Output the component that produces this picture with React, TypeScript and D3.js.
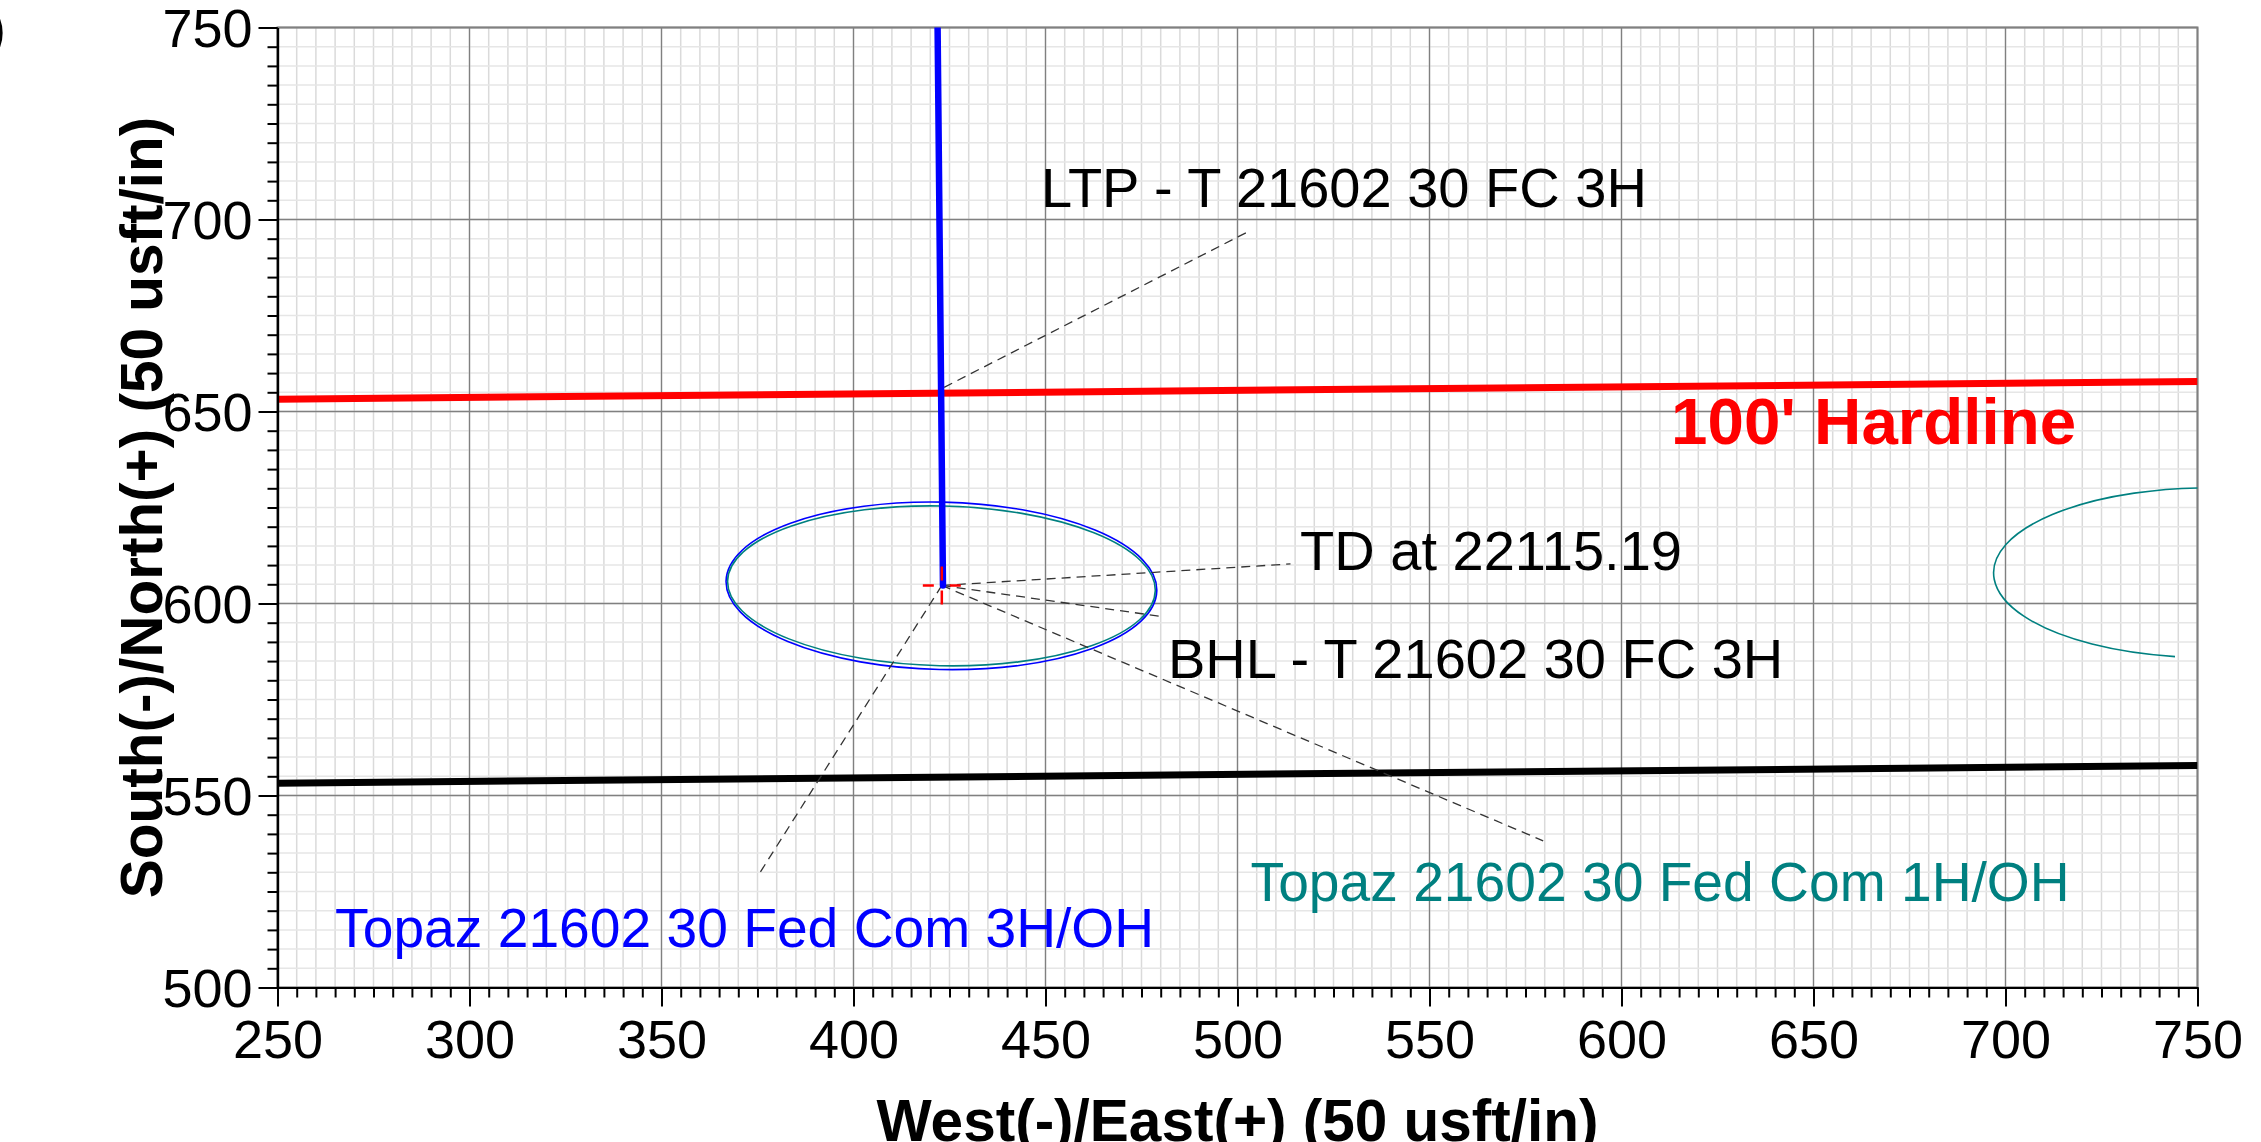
import React, { useEffect, useRef } from 'react';
import * as d3 from 'd3';

const WIDTH = 2261;
const HEIGHT = 1142;
const FONT = '"Liberation Sans", Arial, Helvetica, sans-serif';

// axis ticks (usft)
const xTickValues = [250, 300, 350, 400, 450, 500, 550, 600, 650, 700, 750];
const yTickValues = [500, 550, 600, 650, 700, 750];
const minorTickStep = 5;

// well path Topaz 3H (East, North)
const wellPathEast = [421.9, 423.3];
const wellPathNorth = [750, 604.7];

// hardline and lease line
const hardlineEast = [250, 750];
const hardlineNorth = [653.2, 657.8];
const leaseLineEast = [250, 750];
const leaseLineNorth = [553.2, 557.8];

// TD / BHL cross marker
const markerEast = 423.0;
const markerNorth = 604.7;

// error ellipses
const ellipseCenterEast = [422.9, 422.9, 752.9];
const ellipseCenterNorth = [604.6, 604.6, 608.0];
const ellipseSemiEast = [56.1, 55.7, 56.0];
const ellipseSemiNorth = [21.8, 20.8, 22.1];
const ellipseTiltDeg = [1.3, 1.3, 0];
const ellipseArcFrom = [0, 0, 261];
const ellipseArcTo = [360, 360, 60];
const ellipseColors = ['#0000ff', '#008080', '#008080'];

// annotation labels + leaders
const labelTexts = [
  'LTP - T 21602 30 FC 3H',
  'TD at 22115.19',
  'BHL - T 21602 30 FC 3H',
  'Topaz 21602 30 Fed Com 1H/OH',
  'Topaz 21602 30 Fed Com 3H/OH',
];
const labelEast = [448.8, 516.3, 481.9, 503.4, 265.0];
const labelNorth = [703.3, 608.7, 580.7, 522.5, 510.6];
const labelColors = ['#000000', '#000000', '#000000', '#008080', '#0000ff'];
const labelSizes = [56, 56, 56, 55.2, 55.2];
const leaderFromEast = [423.6, 423.0, 423.0, 423.0, 423.0];
const leaderFromNorth = [656.3, 604.7, 604.7, 604.7, 604.7];
const leaderToEast = [502.5, 513.8, 479.6, 579.6, 375.0];
const leaderToNorth = [696.7, 610.3, 596.7, 538.2, 528.9];

const hardlineLabel = "100' Hardline";
const hardlineLabelEast = 612.9;
const hardlineLabelNorth = 641.5;

const App: React.FC = () => {
  const svgRef = useRef<SVGSVGElement>(null);

  useEffect(() => {
    if (!svgRef.current) return;
    const svg = d3.select(svgRef.current);
    svg.selectAll('*').remove();

    const margin = { top: 27.5, right: WIDTH - 2197.5, bottom: HEIGHT - 987.5, left: 277.5 };
    const x = d3.scaleLinear().domain([250, 750]).range([margin.left, WIDTH - margin.right]);
    const y = d3.scaleLinear().domain([500, 750]).range([HEIGHT - margin.bottom, margin.top]);
    const [x0, x1] = x.range();
    const [y0, y1] = y.range();

    svg.append('rect').attr('width', WIDTH).attr('height', HEIGHT).attr('fill', '#ffffff');

    svg
      .append('defs')
      .append('clipPath')
      .attr('id', 'plot-clip')
      .append('rect')
      .attr('x', x0)
      .attr('y', y1)
      .attr('width', x1 - x0)
      .attr('height', y0 - y1);

    // grid
    const minorX = d3.range(250, 750 + 0.01, minorTickStep);
    const minorY = d3.range(500, 750 + 0.01, minorTickStep);
    const grid = svg.append('g');
    grid
      .selectAll('.gx')
      .data(minorX)
      .enter()
      .append('line')
      .attr('x1', (d) => x(d))
      .attr('x2', (d) => x(d))
      .attr('y1', y1)
      .attr('y2', y0)
      .attr('stroke', '#dadada')
      .attr('stroke-width', 1.5);
    grid
      .selectAll('.gy')
      .data(minorY)
      .enter()
      .append('line')
      .attr('x1', x0)
      .attr('x2', x1)
      .attr('y1', (d) => y(d))
      .attr('y2', (d) => y(d))
      .attr('stroke', '#e6e6e6')
      .attr('stroke-width', 1.5);
    grid
      .selectAll('.mx')
      .data(xTickValues)
      .enter()
      .append('line')
      .attr('x1', (d) => x(d))
      .attr('x2', (d) => x(d))
      .attr('y1', y1)
      .attr('y2', y0)
      .attr('stroke', '#808080')
      .attr('stroke-width', 1.3);
    grid
      .selectAll('.my')
      .data(yTickValues)
      .enter()
      .append('line')
      .attr('x1', x0)
      .attr('x2', x1)
      .attr('y1', (d) => y(d))
      .attr('y2', (d) => y(d))
      .attr('stroke', '#808080')
      .attr('stroke-width', 1.3);

    svg
      .append('rect')
      .attr('x', x0)
      .attr('y', y1)
      .attr('width', x1 - x0)
      .attr('height', y0 - y1)
      .attr('fill', 'none')
      .attr('stroke', '#808080')
      .attr('stroke-width', 2);

    const plot = svg.append('g').attr('clip-path', 'url(#plot-clip)');
    const kx = (x1 - x0) / 500;
    const ky = (y0 - y1) / 250;

    // ellipses
    ellipseCenterEast.forEach((ce, i) => {
      const cx = x(ce);
      const cy = y(ellipseCenterNorth[i]);
      const rx = ellipseSemiEast[i] * kx;
      const ry = ellipseSemiNorth[i] * ky;
      if (ellipseArcTo[i] - ellipseArcFrom[i] >= 360) {
        plot
          .append('ellipse')
          .attr('cx', cx)
          .attr('cy', cy)
          .attr('rx', rx)
          .attr('ry', ry)
          .attr('transform', `rotate(${ellipseTiltDeg[i]},${cx},${cy})`)
          .attr('fill', 'none')
          .attr('stroke', ellipseColors[i])
          .attr('stroke-width', 1.6);
      } else {
        const a0 = (ellipseArcFrom[i] * Math.PI) / 180;
        const a1 = (ellipseArcTo[i] * Math.PI) / 180;
        const p0 = [x(ce + ellipseSemiEast[i] * Math.cos(a0)), y(ellipseCenterNorth[i] + ellipseSemiNorth[i] * Math.sin(a0))];
        const p1 = [x(ce + ellipseSemiEast[i] * Math.cos(a1)), y(ellipseCenterNorth[i] + ellipseSemiNorth[i] * Math.sin(a1))];
        const large = Math.abs(ellipseArcFrom[i] - ellipseArcTo[i]) > 180 ? 1 : 0;
        plot
          .append('path')
          .attr('d', `M${p0[0]},${p0[1]} A${rx},${ry} 0 ${large} 1 ${p1[0]},${p1[1]}`)
          .attr('fill', 'none')
          .attr('stroke', ellipseColors[i])
          .attr('stroke-width', 1.6);
      }
    });

    const line = d3
      .line<[number, number]>()
      .x((d) => x(d[0]))
      .y((d) => y(d[1]));

    // hardline (red) and lease line (black)
    plot
      .append('path')
      .attr('d', line(hardlineEast.map((e, i) => [e, hardlineNorth[i]] as [number, number])))
      .attr('fill', 'none')
      .attr('stroke', '#ff0000')
      .attr('stroke-width', 7);
    plot
      .append('path')
      .attr('d', line(leaseLineEast.map((e, i) => [e, leaseLineNorth[i]] as [number, number])))
      .attr('fill', 'none')
      .attr('stroke', '#000000')
      .attr('stroke-width', 7);

    // leaders
    labelTexts.forEach((_, i) => {
      plot
        .append('line')
        .attr('x1', x(leaderFromEast[i]))
        .attr('y1', y(leaderFromNorth[i]))
        .attr('x2', x(leaderToEast[i]))
        .attr('y2', y(leaderToNorth[i]))
        .attr('stroke', '#333333')
        .attr('stroke-width', 1.3)
        .attr('stroke-dasharray', '9 6');
    });

    // well path
    plot
      .append('path')
      .attr('d', line(wellPathEast.map((e, i) => [e, wellPathNorth[i]] as [number, number])))
      .attr('fill', 'none')
      .attr('stroke', '#0000ff')
      .attr('stroke-width', 6.5)
      .attr('stroke-linecap', 'round');

    // cross marker
    const mx = x(markerEast);
    const my = y(markerNorth);
    plot
      .append('line')
      .attr('x1', mx - 19)
      .attr('x2', mx + 19)
      .attr('y1', my)
      .attr('y2', my)
      .attr('stroke', '#ff0000')
      .attr('stroke-width', 2.5)
      .attr('stroke-dasharray', '11 16 11');
    plot
      .append('line')
      .attr('x1', mx)
      .attr('x2', mx)
      .attr('y1', my - 19)
      .attr('y2', my + 19)
      .attr('stroke', '#ff0000')
      .attr('stroke-width', 2.5)
      .attr('stroke-dasharray', '14 10 14');

    // labels
    labelTexts.forEach((t, i) => {
      svg
        .append('text')
        .attr('x', x(labelEast[i]))
        .attr('y', y(labelNorth[i]))
        .attr('fill', labelColors[i])
        .attr('font-family', FONT)
        .attr('font-size', labelSizes[i])
        .text(t);
    });
    svg
      .append('text')
      .attr('x', x(hardlineLabelEast))
      .attr('y', y(hardlineLabelNorth))
      .attr('fill', '#ff0000')
      .attr('font-family', FONT)
      .attr('font-size', 65.5)
      .attr('font-weight', 'bold')
      .text(hardlineLabel);

    // axes
    const styleAxis = (g: d3.Selection<SVGGElement, unknown, null, undefined>) => {
      g.attr('font-family', FONT).attr('font-size', 54);
      g.select('.domain').attr('stroke', '#000').attr('stroke-width', 2.2);
      g.selectAll('.tick line').attr('stroke', '#000').attr('stroke-width', 2);
      g.selectAll('.tick text').attr('fill', '#000');
    };

    const gyMinor = svg
      .append('g')
      .attr('transform', `translate(${x0},0)`)
      .call(d3.axisLeft(y).tickValues(minorY).tickSize(10).tickSizeOuter(0).tickFormat(() => ''));
    styleAxis(gyMinor);
    const gy = svg
      .append('g')
      .attr('transform', `translate(${x0},0)`)
      .call(d3.axisLeft(y).tickValues(yTickValues).tickSize(19).tickSizeOuter(0).tickPadding(6).tickFormat(d3.format('d')));
    styleAxis(gy);
    gy.selectAll('.tick text').attr('dy', '0.36em');

    const gxMinor = svg
      .append('g')
      .attr('transform', `translate(0,${y0})`)
      .call(d3.axisBottom(x).tickValues(minorX).tickSize(10).tickSizeOuter(0).tickFormat(() => ''));
    styleAxis(gxMinor);
    const gx = svg
      .append('g')
      .attr('transform', `translate(0,${y0})`)
      .call(d3.axisBottom(x).tickValues(xTickValues).tickSize(19).tickSizeOuter(0).tickPadding(13).tickFormat(d3.format('d')));
    styleAxis(gx);

    // axis titles
    svg
      .append('text')
      .attr('x', (x0 + x1) / 2)
      .attr('y', 1141)
      .attr('text-anchor', 'middle')
      .attr('font-family', FONT)
      .attr('font-size', 58.5)
      .attr('font-weight', 'bold')
      .attr('fill', '#000')
      .text('West(-)/East(+) (50 usft/in)');

    svg
      .append('text')
      .attr('transform', `translate(162,${(y0 + y1) / 2}) rotate(-90)`)
      .attr('text-anchor', 'middle')
      .attr('font-family', FONT)
      .attr('font-size', 58.5)
      .attr('font-weight', 'bold')
      .attr('fill', '#000')
      .text('South(-)/North(+) (50 usft/in)');

    // clipped glyph from neighbouring panel
    svg
      .append('text')
      .attr('x', 6)
      .attr('y', 47)
      .attr('text-anchor', 'end')
      .attr('font-family', FONT)
      .attr('font-size', 54)
      .attr('fill', '#000')
      .text(')');
  }, []);

  return (
    <div style={{ position: 'absolute', left: 0, top: 0, width: WIDTH, height: HEIGHT, background: '#fff' }}>
      <svg ref={svgRef} width={WIDTH} height={HEIGHT} />
    </div>
  );
};

export default App;
